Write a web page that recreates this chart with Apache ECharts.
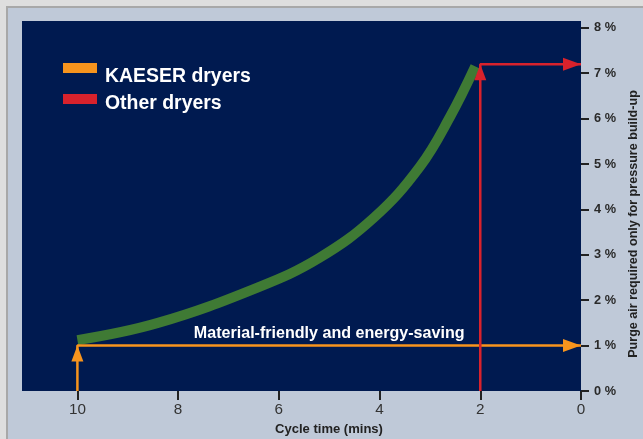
<!DOCTYPE html>
<html><head><meta charset="utf-8">
<script src="https://cdn.jsdelivr.net/npm/echarts@6/dist/echarts.min.js"></script>
<style>html,body{margin:0;padding:0;background:#dedede}#c{width:643px;height:439px}</style>
</head><body><div id="c"></div>
<script>
// ---- data ----
const xTicks = [0, 2, 4, 6, 8, 10];
const yTicks = [0, 1, 2, 3, 4, 5, 6, 7, 8];
const curveX = [10, 8.4, 6.4, 5.2, 4.1, 3.2, 2.6, 2.1];
const curveY = [1.12, 1.5, 2.29, 2.93, 3.83, 4.94, 6.04, 7.15];
const kaeserPath = [[10, 0], [10, 1], [0, 1]];
const otherPath = [[2, 0], [2, 7.2], [0, 7.2]];
const kaeserTips = [[10, 1], [0, 1]];
const otherTips = [[2, 7.2], [0, 7.2]];
const seriesNames = ['KAESER dryers', 'Other dryers'];
const noteText = 'Material-friendly and energy-saving';
const notePos = [5, 1];
const xName = 'Cycle time (mins)';
const yName = 'Purge air required only for pressure build-up';

const ORANGE = '#f7941d', RED = '#d8222c', GREEN = '#3f7a34', NAVY = '#001a50';

// pick a condensed face if one is installed, else Liberation Sans, and size text to the reference widths
const ctx = document.createElement('canvas').getContext('2d');
function has(f) {
  const s = 'abcdefghijKLMNOP 0123456789';
  ctx.font = '100px monospace'; const a = ctx.measureText(s).width;
  ctx.font = '100px "' + f + '", monospace'; return ctx.measureText(s).width !== a;
}
const FAM = ['Liberation Sans Narrow', 'Arial Narrow', 'Liberation Sans'].find(has) || 'sans-serif';
const FONT = '"' + FAM + '", sans-serif';
function fit(text, weight, target, maxSize) {
  ctx.font = weight + ' 100px ' + FONT;
  return Math.min(maxSize, 100 * target / ctx.measureText(text).width);
}
const legendSize = fit('KAESER dryers', 'bold', 146, 24);
const noteSize = fit(noteText, 'bold', 271, 17);
const xNameSize = fit(xName, 'bold', 108, 16);
const yNameSize = fit(yName, 'bold', 268, 14);
const xLabSize = fit('10', 'normal', 17, 18);
const yLabSize = fit('8 %', 'bold', 22, 15);

const chart = echarts.init(document.getElementById('c'), null, {renderer: 'canvas'});

function arrowSeries(name, color, pts) {
  return {
    name: name, type: 'scatter', silent: true, z: 5,
    itemStyle: {color: color, opacity: 1},
    data: [
      {value: pts[0], symbol: 'triangle', symbolSize: [12, 16], symbolRotate: 0, symbolOffset: [0, 8]},
      {value: pts[1], symbol: 'triangle', symbolSize: [13, 18], symbolRotate: -90, symbolOffset: [-9, 0]}
    ]
  };
}
function legendBlock(name, top, pad) {
  return {
    data: [name], left: 58, top: top, orient: 'vertical',
    icon: 'rect', itemWidth: 34, itemHeight: 10,
    formatter: n => '{t|' + n + '}',
    textStyle: {rich: {t: {color: '#fff', fontFamily: FONT, fontWeight: 'bold', fontSize: legendSize, padding: [pad, 0, 0, 3]}}}
  };
}

const option = {
  backgroundColor: '#dedede',
  animation: false,
  graphic: [{
    type: 'rect', z: -10, silent: true,
    shape: {x: 7, y: 7, width: 640, height: 440},
    style: {fill: '#bfc9d8', stroke: '#a8a8a8', lineWidth: 2}
  }],
  grid: {left: 22, right: 62, top: 21, bottom: 48, show: true, backgroundColor: NAVY, borderWidth: 0,
    containLabel: false, outerBoundsMode: 'none'},
  legend: [legendBlock(seriesNames[0], 58, 18), legendBlock(seriesNames[1], 89, 9)],
  xAxis: {
    type: 'value', inverse: true, min: 0, max: 11.1, position: 'bottom',
    splitLine: {show: false},
    axisLine: {show: false},
    axisTick: {show: true, customValues: xTicks, length: 9, lineStyle: {color: '#222', width: 2}},
    axisLabel: {customValues: xTicks, margin: 11, color: '#333', fontFamily: FONT, fontSize: xLabSize},
    name: xName, nameLocation: 'middle', nameGap: 32,
    nameTextStyle: {color: '#222', fontFamily: FONT, fontWeight: 'bold', fontSize: xNameSize, padding: [0, 0, 0, 55]}
  },
  yAxis: {
    type: 'value', position: 'right', min: 0, max: 8.15,
    splitLine: {show: false},
    axisLine: {show: false},
    axisTick: {show: true, customValues: yTicks, length: 8, lineStyle: {color: '#222', width: 2}},
    axisLabel: {customValues: yTicks, margin: 13, formatter: '{value} %', color: '#2a2a2a', fontFamily: FONT, fontWeight: 'bold', fontSize: yLabSize},
    name: yName, nameLocation: 'middle', nameGap: 45,
    nameTextStyle: {color: '#222', fontFamily: FONT, fontWeight: 'bold', fontSize: yNameSize, padding: [0, 36, 0, 0]}
  },
  series: [
    {
      name: 'curve', type: 'line', smooth: 0.4, symbol: 'none', silent: true, z: 3,
      data: curveX.map((x, i) => [x, curveY[i]]),
      lineStyle: {color: GREEN, width: 10, cap: 'butt'}
    },
    {
      name: seriesNames[0], type: 'line', symbol: 'none', silent: true, z: 4,
      data: kaeserPath, itemStyle: {color: ORANGE},
      lineStyle: {color: ORANGE, width: 2.5}
    },
    arrowSeries(seriesNames[0], ORANGE, kaeserTips),
    {
      name: seriesNames[1], type: 'line', symbol: 'none', silent: true, z: 4,
      data: otherPath, itemStyle: {color: RED},
      lineStyle: {color: RED, width: 2.5}
    },
    arrowSeries(seriesNames[1], RED, otherTips),
    {
      name: 'note', type: 'scatter', silent: true, symbolSize: 0, z: 6,
      itemStyle: {opacity: 1},
      data: [notePos],
      label: {show: true, position: 'top', distance: 4, formatter: noteText, opacity: 1,
        color: '#ffffff', fontFamily: FONT, fontWeight: 'bold', fontSize: noteSize}
    }
  ]
};
chart.setOption(option);
</script>
</body></html>
